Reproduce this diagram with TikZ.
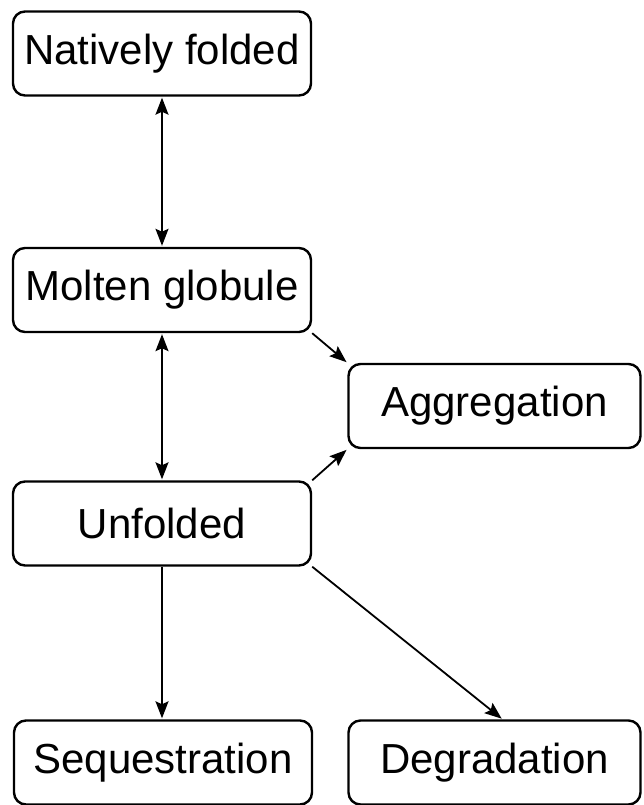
\documentclass[tikz,border=0pt]{standalone}
\usepackage{amssymb,amsmath}
\usepackage{fontspec}
\setmainfont{Liberation Sans}
\usetikzlibrary{arrows.meta}

\tikzset{
	statebox/.style = {draw = black, line width = 2.4pt, rounded corners = 12pt, minimum height = 84pt, inner sep = 0pt, font = \fontsize{42}{50}\selectfont},
	leftbox/.style = {statebox, minimum width = 298pt},
	rightbox/.style = {statebox, minimum width = 292pt},
	flow/.style = {line width = 1.8pt, -{Stealth[length=17pt, width=13pt, inset=3pt]}, shorten >= 1pt},
	twoway/.style = {line width = 1.8pt, {Stealth[length=17pt, width=13pt, inset=3pt]}-{Stealth[length=17pt, width=13pt, inset=3pt]}, shorten >= 1pt, shorten <= 1pt}
}

\begin{document}
\begin{tikzpicture}[x = 1pt, y = -1pt]
	\useasboundingbox (0,0) rectangle (643,805);

	\node[leftbox] (native) at (162,53.5) {Natively folded};
	\node[leftbox] (molten) at (162,290) {Molten globule};
	\node[rightbox] (aggr) at (494.5,406) {Aggregation};
	\node[leftbox] (unfold) at (162,523.5) {Unfolded};
	\node[leftbox] (seq) at (163,762.5) {Sequestration};
	\node[rightbox] (degr) at (494.5,762.5) {Degradation};

	\draw[twoway] (native.south) -- (molten.north);
	\draw[twoway] (molten.south) -- (unfold.north);
	\draw[flow] (molten.south east) -- (aggr.north west);
	\draw[flow] (unfold.north east) -- (aggr.south west);
	\draw[flow] (unfold.south) -- (unfold.south |- seq.north);
	\draw[flow] (unfold.south east) -- ([xshift=8pt]degr.north);

\end{tikzpicture}
\end{document}
